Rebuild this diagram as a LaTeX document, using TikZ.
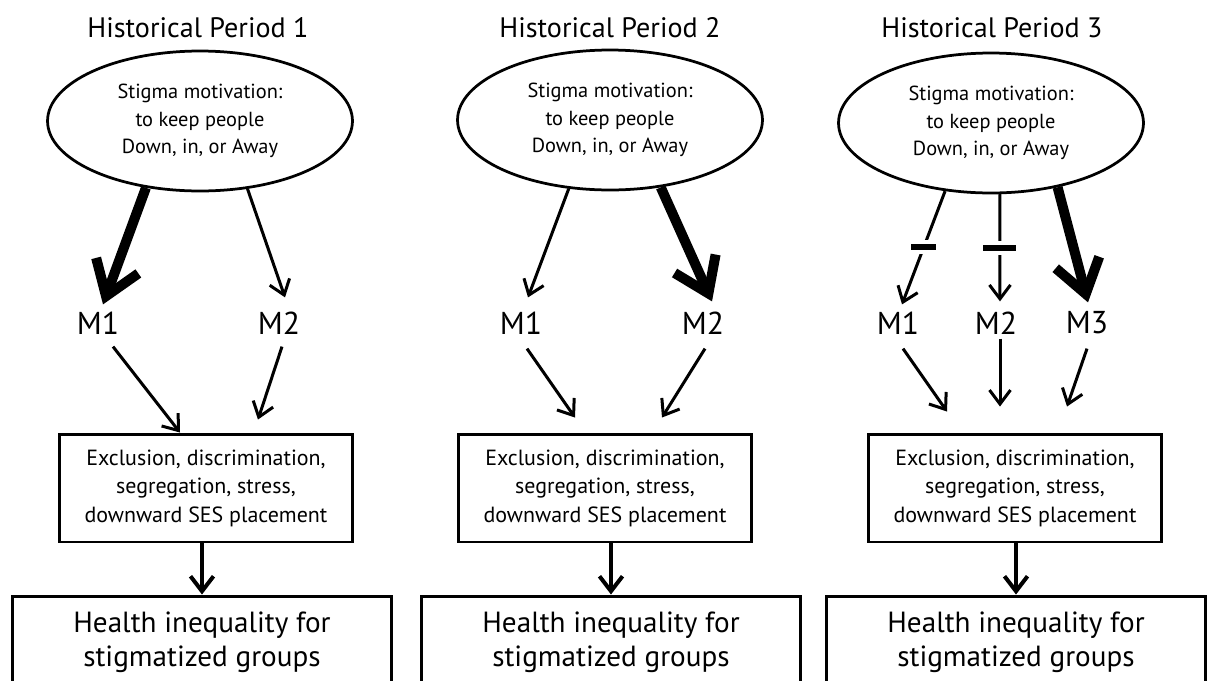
\documentclass[tikz,border=0pt]{standalone}
\usepackage{fontspec}
\setmainfont{PT Sans}
\usetikzlibrary{shapes.geometric,arrows.meta,positioning}

\begin{document}
\begin{tikzpicture}[x=0.02cm, y=-0.02cm,
    period/.style={font=\fontsize{16}{19}\selectfont, inner sep=0pt},
    motive/.style={draw, ellipse, line width=0.055cm, minimum width=6.1cm, minimum height=2.8cm, align=center, inner sep=0pt, font=\fontsize{11.6}{15.6}\selectfont},
    mech/.style={font=\fontsize{18}{20}\selectfont, inner sep=0pt},
    effect/.style={draw, rectangle, line width=0.06cm, minimum width=5.88cm, minimum height=2.16cm, align=center, inner sep=0pt, font=\fontsize{12.5}{16.2}\selectfont},
    outcome/.style={draw, rectangle, line width=0.06cm, minimum width=7.6cm, minimum height=1.84cm, align=center, inner sep=0pt, font=\fontsize{16.6}{19.4}\selectfont},
    weak/.style={line width=0.06cm, -{Straight Barb[length=0.28cm, width=0.42cm]}},
    strong/.style={line width=0.2cm, -{Straight Barb[length=0.65cm, width=0.9cm]}},
    drop/.style={line width=0.08cm, -{Straight Barb[length=0.3cm, width=0.46cm]}},
    barrier/.style={fill=black, inner sep=0pt, minimum width=0.5cm, minimum height=0.12cm, preaction={draw=white, line width=0.16cm}}]

    \clip (0,0) rectangle (1210,680);

    % Historical period 1
    \node[period] (t1) at (198,28) {Historical Period 1};
    \node[motive] (e1) at (200,121) {Stigma motivation:\\to keep people\\Down, in, or Away};
    \node[mech] (m11) at (98,323) {M1};
    \node[mech] (m12) at (279,323) {M2};
    \node[effect] (b1) at (206,488) {Exclusion, discrimination,\\segregation, stress,\\downward SES placement};
    \node[outcome] (h1) at (202,642) {Health inequality for\\stigmatized groups};

    % Historical period 2
    \node[period] (t2) at (610,28) {Historical Period 2};
    \node[motive] (e2) at (610,120) {Stigma motivation:\\to keep people\\Down, in, or Away};
    \node[mech] (m21) at (521,323) {M1};
    \node[mech] (m22) at (703,323) {M2};
    \node[effect] (b2) at (605,488) {Exclusion, discrimination,\\segregation, stress,\\downward SES placement};
    \node[outcome] (h2) at (611,642) {Health inequality for\\stigmatized groups};

    % Historical period 3
    \node[period] (t3) at (992,28) {Historical Period 3};
    \node[motive] (e3) at (991,123) {Stigma motivation:\\to keep people\\Down, in, or Away};
    \node[mech] (m31) at (898,323) {M1};
    \node[mech] (m32) at (996,323) {M2};
    \node[mech] (m33) at (1087,323) {M3};
    \node[effect] (b3) at (1015,488) {Exclusion, discrimination,\\segregation, stress,\\downward SES placement};
    \node[outcome] (h3) at (1016,642) {Health inequality for\\stigmatized groups};

    % Connections, period 1
    \draw[strong] (e1.231) -- ([shift={(5,-7)}]m11.north);
    \draw[weak] (e1.305) -- ([shift={(6,-14)}]m12.north);
    \draw[weak] ([shift={(15,12)}]m11.south) -- ([shift={(-26,0)}]b1.north);
    \draw[weak] ([shift={(3,12)}]m12.south) -- ([shift={(52,-13)}]b1.north);
    \draw[drop] (b1.south -| h1.north) -- (h1.north);

    % Connections, period 2
    \draw[weak] (e2.239) -- ([shift={(7,-14)}]m21.north);
    \draw[strong] (e2.307) -- ([shift={(9,-10)}]m22.north);
    \draw[weak] ([shift={(6,14)}]m21.south) -- ([shift={(-30,-15)}]b2.north);
    \draw[weak] ([shift={(2,14)}]m22.south) -- ([shift={(57,-15)}]b2.north);
    \draw[drop] (b2.south -| h2.north) -- (h2.north);

    % Connections, period 3
    \draw[weak] (e3.236) -- node[barrier, pos=0.49] {} ([shift={(4,-7)}]m31.north);
    \draw[weak] (e3.277) -- node[barrier, pos=0.5, minimum width=0.66cm] {} ([shift={(4,-10)}]m32.north);
    \draw[strong] (e3.316) -- ([shift={(1,-9)}]m33.north);
    \draw[weak] ([shift={(5,14)}]m31.south) -- ([shift={(-68,-21)}]b3.north);
    \draw[weak] ([shift={(4,4)}]m32.south) -- ([shift={(-15,-26)}]b3.north);
    \draw[weak] ([shift={(0,14)}]m33.south) -- ([shift={(52,-26)}]b3.north);
    \draw[drop] (b3.south -| h3.north) -- (h3.north);
\end{tikzpicture}
\end{document}
